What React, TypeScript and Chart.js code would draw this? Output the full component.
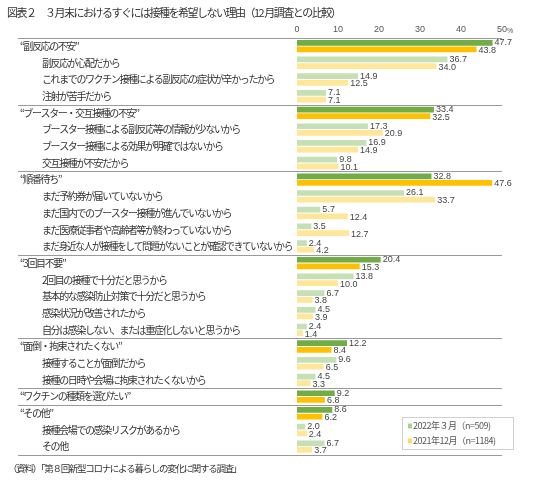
import { useEffect, useRef } from 'react';
import { Chart, registerables } from 'chart.js';

Chart.register(...registerables);

const title = '図表２　３月末におけるすぐには接種を希望しない理由（12 月調査との比較）';
const source = '（資料）「第８回新型コロナによる暮らしの変化に関する調査」';

const categories = [
  '“副反応の不安”',
  '副反応が心配だから',
  'これまでのワクチン接種による副反応の症状が辛かったから',
  '注射が苦手だから',
  '“ブースター・交互接種の不安”',
  'ブースター接種による副反応等の情報が少ないから',
  'ブースター接種による効果が明確ではないから',
  '交互接種が不安だから',
  '“順番待ち”',
  'まだ予約券が届いていないから',
  'まだ国内でのブースター接種が進んでいないから',
  'まだ医療従事者や高齢者等が終わっていないから',
  'まだ身近な人が接種をして問題がないことが確認できていないから',
  '“3回目不要”',
  '2回目の接種で十分だと思うから',
  '基本的な感染防止対策で十分だと思うから',
  '感染状況が改善されたから',
  '自分は感染しない、または重症化しないと思うから',
  '“面倒・拘束されたくない”',
  '接種することが面倒だから',
  '接種の日時や会場に拘束されたくないから',
  '“ワクチンの種類を選びたい”',
  '“その他”',
  '接種会場での感染リスクがあるから',
  'その他',
];

// rows that are group headings (darker bars, no indent)
const groupRows = [0, 4, 8, 13, 18, 21, 22];

const mar2022 = [47.7, 36.7, 14.9, 7.1, 33.4, 17.3, 16.9, 9.8, 32.8, 26.1, 5.7, 3.5, 2.4, 20.4, 13.8, 6.7, 4.5, 2.4, 12.2, 9.6, 4.5, 9.2, 8.6, 2.0, 6.7];
const dec2021 = [43.8, 34.0, 12.5, 7.1, 32.5, 20.9, 14.9, 10.1, 47.6, 33.7, 12.4, 12.7, 4.2, 15.3, 10.0, 3.8, 3.9, 1.4, 8.4, 6.5, 3.3, 6.8, 6.2, 2.4, 3.7];

const seriesNames = ['2022年３月（n=509)', '2021年12月（n=1184)'];

const JP = '"Noto Sans CJK JP", "Noto Sans", sans-serif';
const NUM = '"Liberation Sans Narrow", "Liberation Sans", Arial, sans-serif';

const overlay = {
  id: 'overlay',
  afterDraw(chart) {
    const { ctx, chartArea, scales } = chart;
    const y = scales.y;
    const x = scales.x;
    const rowH = (chartArea.bottom - chartArea.top) / categories.length;
    ctx.save();

    // title
    ctx.fillStyle = '#333';
    ctx.textBaseline = 'middle';
    ctx.textAlign = 'left';
    ctx.font = `11px ${JP}`;
    ctx.letterSpacing = '-1.5px';
    ctx.fillText(title, 7, 13);

    // source
    ctx.font = `9.5px ${JP}`;
    ctx.letterSpacing = '-1.3px';
    ctx.fillText(source, 8, 468);

    // category labels
    ctx.font = `10px ${JP}`;
    ctx.letterSpacing = '-1.4px';
    categories.forEach((c, i) => {
      const py = y.getPixelForValue(i);
      const main = groupRows.includes(i);
      ctx.fillText(c, main ? 20 : 42, py, 250);
    });
    ctx.letterSpacing = '0px';

    // separators
    ctx.strokeStyle = '#9a9a9a';
    ctx.lineWidth = 1.2;
    const lines = groupRows.map((r) => y.getPixelForValue(r) - rowH / 2);
    lines.push(chartArea.bottom);
    lines.forEach((ly) => {
      ctx.beginPath();
      ctx.moveTo(18, Math.round(ly) + 0.5);
      ctx.lineTo(chartArea.right, Math.round(ly) + 0.5);
      ctx.stroke();
    });

    // % unit
    ctx.font = `7px ${NUM}`;
    ctx.fillStyle = '#555';
    ctx.fillText('%', x.getPixelForValue(50) + 5, 31);

    // value labels
    ctx.font = `9px ${NUM}`;
    ctx.fillStyle = '#444';
    [0, 1].forEach((d) => {
      const meta = chart.getDatasetMeta(d);
      meta.data.forEach((bar, i) => {
        const v = chart.data.datasets[d].data[i];
        ctx.fillText(v.toFixed(1), bar.x + 2, bar.y + (d === 0 ? 0 : 1));
      });
    });

    // legend
    const lx = 402;
    const ly = 417;
    ctx.fillStyle = '#fff';
    ctx.fillRect(lx, ly, 111, 32);
    ctx.strokeStyle = '#d0d0d0';
    ctx.lineWidth = 1;
    ctx.strokeRect(lx + 0.5, ly + 0.5, 111, 32);
    const swatch = ['#a9d18e', '#ffd966'];
    ctx.font = `9px ${JP}`;
    ctx.letterSpacing = '-0.5px';
    seriesNames.forEach((s, k) => {
      const ty = ly + 9 + k * 15;
      ctx.fillStyle = swatch[k];
      ctx.fillRect(lx + 6, ty - 2.5, 4, 5);
      ctx.fillStyle = '#555';
      ctx.fillText(s, lx + 11, ty);
    });
    ctx.restore();
  },
};

export default function App() {
  const canvasRef = useRef(null);
  const chartRef = useRef(null);

  useEffect(() => {
    if (chartRef.current) chartRef.current.destroy();
    const isMain = categories.map((_, i) => groupRows.includes(i));
    chartRef.current = new Chart(canvasRef.current.getContext('2d'), {
      type: 'bar',
      data: {
        labels: categories,
        datasets: [
          {
            label: seriesNames[0],
            data: mar2022,
            backgroundColor: isMain.map((m) => (m ? '#70ad47' : '#c5e0b4')),
            categoryPercentage: 0.8,
            barPercentage: 0.86,
          },
          {
            label: seriesNames[1],
            data: dec2021,
            backgroundColor: isMain.map((m) => (m ? '#ffc000' : '#ffe699')),
            categoryPercentage: 0.8,
            barPercentage: 0.86,
          },
        ],
      },
      options: {
        indexAxis: 'y',
        animation: false,
        responsive: true,
        maintainAspectRatio: false,
        layout: { padding: { top: 21, left: 297, right: 38, bottom: 30 } },
        plugins: {
          legend: { display: false },
          tooltip: { enabled: false },
        },
        scales: {
          x: {
            position: 'top',
            min: 0,
            max: 50,
            grid: { display: false, drawTicks: false },
            border: { display: false },
            ticks: {
              stepSize: 10,
              color: '#555',
              padding: 3,
              font: { size: 9, family: NUM },
            },
          },
          y: {
            display: false,
          },
        },
      },
      plugins: [overlay],
    });
    return () => {
      if (chartRef.current) {
        chartRef.current.destroy();
        chartRef.current = null;
      }
    };
  }, []);

  return (
    <div style={{ position: 'absolute', left: 0, top: 0, width: 540, height: 485, background: '#fff' }}>
      <canvas ref={canvasRef}></canvas>
    </div>
  );
}
